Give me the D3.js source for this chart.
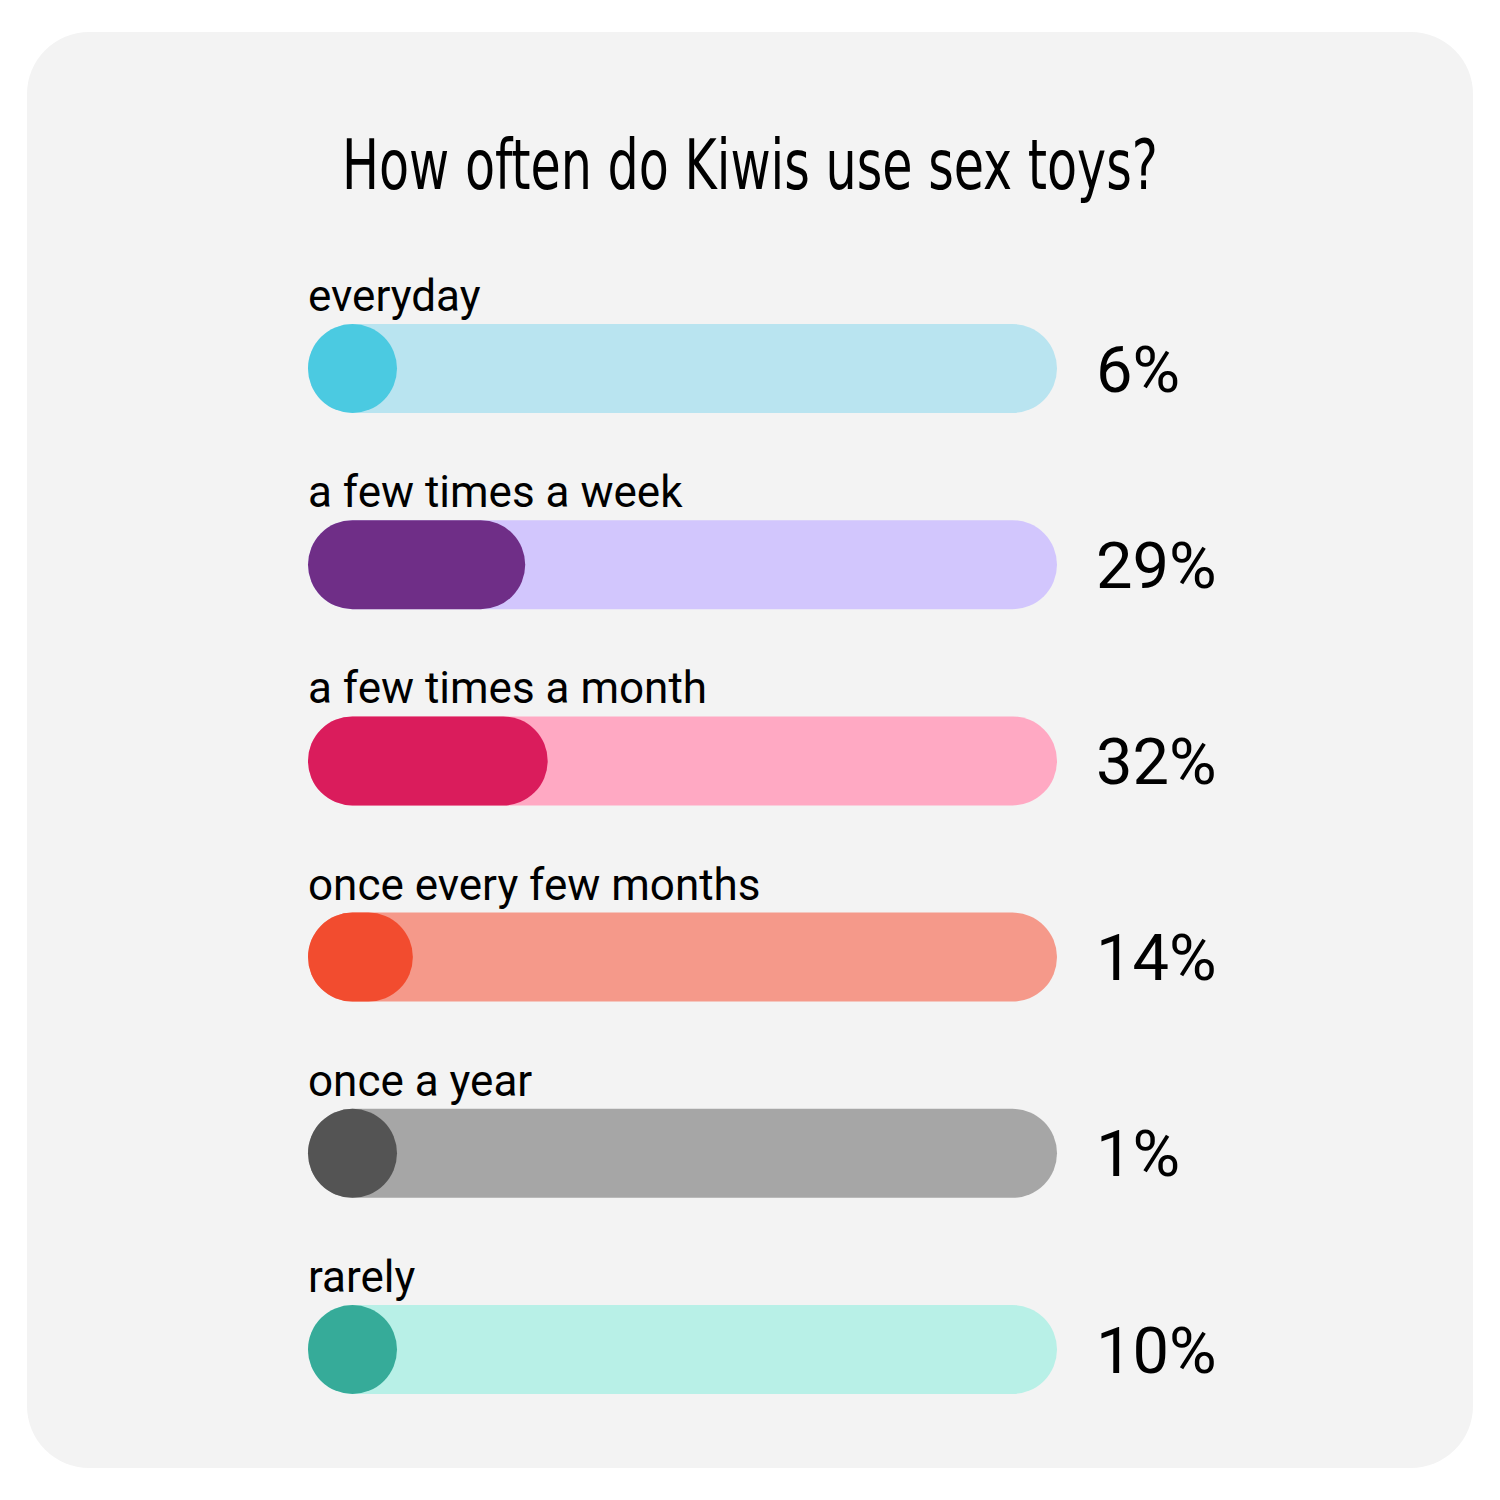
<!DOCTYPE html>
<html>
<head>
<meta charset="utf-8">
<script src="https://cdn.jsdelivr.net/npm/d3@7"></script>
<style>
  html, body { margin: 0; padding: 0; background: #fff; }
  svg { display: block; }
</style>
</head>
<body>
<div id="chart"></div>
<script>
// data
const categories = ["everyday", "a few times a week", "a few times a month", "once every few months", "once a year", "rarely"];
const values = [6, 29, 32, 14, 1, 10];
const fillColors = ["#4bcae1", "#6f2e87", "#da1c5c", "#f24c2f", "#545454", "#36ab99"];
const trackColors = ["#b9e4f0", "#d2c6fd", "#ffa9c3", "#f5998a", "#a6a6a6", "#b8f0e7"];
const title = "How often do Kiwis use sex toys?";

const W = 1500, H = 1500;
const barH = 89;

const svg = d3.select("#chart").append("svg")
  .attr("width", W)
  .attr("height", H);

// card background
svg.append("rect")
  .attr("x", 27).attr("y", 32)
  .attr("width", 1446).attr("height", 1436)
  .attr("rx", 62).attr("ry", 62)
  .attr("fill", "#f3f3f3");

// title, squeezed to width like the condensed face in the reference
const titleText = svg.append("text")
  .attr("x", 0).attr("y", 0)
  .attr("font-family", "'Liberation Sans Narrow', 'DejaVu Sans Condensed', 'Roboto', sans-serif")
  .attr("font-size", 69)
  .attr("fill", "#000")
  .text(title);
const tw = titleText.node().getComputedTextLength();
const sx = 816 / tw;
titleText.attr("transform", `translate(342,189) scale(${sx},1)`);

const x = d3.scaleLinear().domain([0, 100]).range([308, 1057]);
const y = d3.scalePoint()
  .domain(categories)
  .range([324, 1305]);

const rows = svg.selectAll("g.row")
  .data(categories.map((c, i) => ({ cat: c, v: values[i], fill: fillColors[i], track: trackColors[i] })))
  .join("g")
  .attr("class", "row");

rows.append("rect")
  .attr("x", x(0))
  .attr("y", d => y(d.cat))
  .attr("width", x(100) - x(0))
  .attr("height", barH)
  .attr("rx", barH / 2)
  .attr("fill", d => d.track);

rows.append("rect")
  .attr("x", x(0))
  .attr("y", d => y(d.cat))
  .attr("width", d => Math.max(barH, x(d.v) - x(0)))
  .attr("height", barH)
  .attr("rx", barH / 2)
  .attr("fill", d => d.fill);

rows.append("text")
  .attr("x", x(0))
  .attr("y", d => y(d.cat) - 13)
  .attr("font-family", "Roboto, sans-serif")
  .attr("font-size", 44)
  .attr("fill", "#000")
  .text(d => d.cat);

rows.append("text")
  .attr("x", 1096)
  .attr("y", d => y(d.cat) + barH / 2 + 23)
  .attr("font-family", "Roboto, sans-serif")
  .attr("font-size", 65)
  .attr("fill", "#000")
  .text(d => d.v + "%");
</script>
</body>
</html>
